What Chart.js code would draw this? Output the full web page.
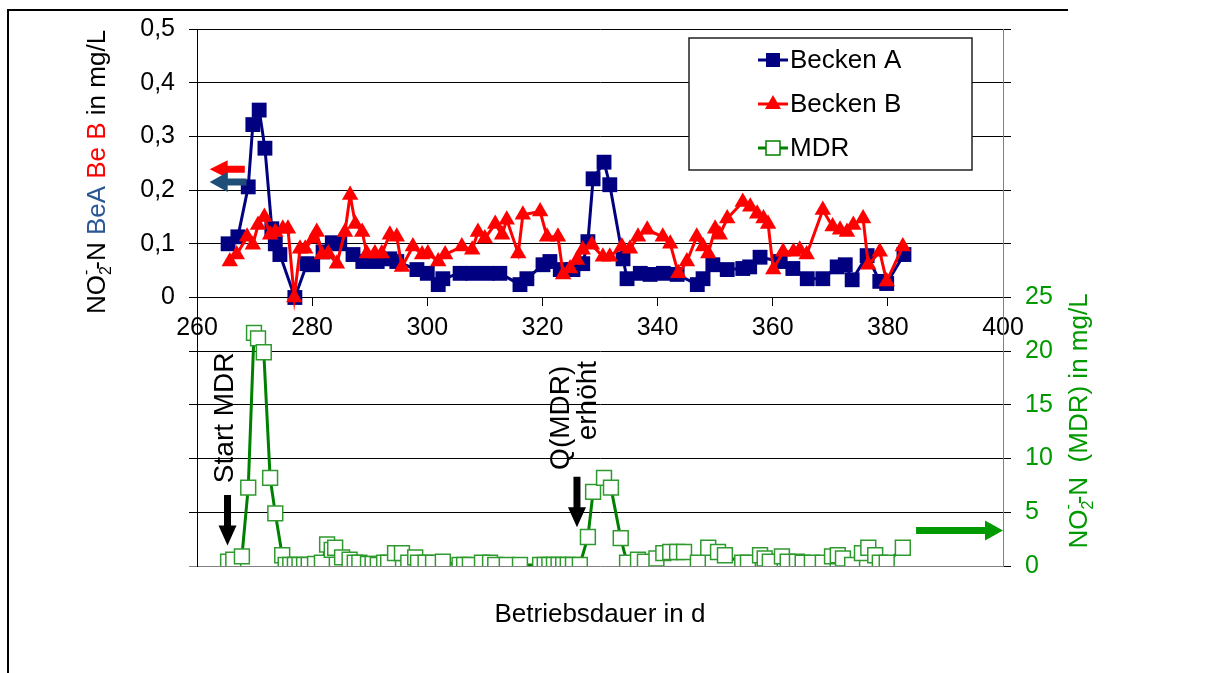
<!DOCTYPE html>
<html>
<head>
<meta charset="utf-8">
<script src="https://cdn.jsdelivr.net/npm/chart.js@4.4.0/dist/chart.umd.min.js"></script>
<style>
  html, body { margin: 0; padding: 0; background: #fff; }
  #wrap { width: 1224px; height: 673px; position: relative; }
</style>
</head>
<body>
<div id="wrap"><canvas id="no2-chart"></canvas></div>
<script>
// Betriebsdauer (d) und NO2-N Werte
const tageA = [265.4, 267.1, 268.9, 269.7, 270.8, 271.8, 273.0, 273.6, 274.4, 277.0, 279.1, 280.1, 281.9, 283.5, 284.8, 287.1, 288.8, 291.3, 293.5, 294.7, 298.2, 300.0, 301.9, 302.7, 305.7, 307.9, 310.4, 312.6, 316.1, 317.3, 320.1, 321.3, 323.1, 325.3, 327.0, 327.9, 328.8, 330.7, 331.7, 334.0, 334.7, 337.0, 338.7, 341.0, 343.4, 346.9, 347.9, 349.6, 352.1, 354.8, 356.0, 357.8, 361.3, 363.5, 366.0, 368.7, 371.2, 372.6, 373.8, 376.4, 378.6, 379.8, 382.8];
const beckenA = [0.100, 0.113, 0.206, 0.322, 0.349, 0.278, 0.128, 0.100, 0.080, 0.000, 0.063, 0.061, 0.085, 0.102, 0.100, 0.080, 0.067, 0.067, 0.072, 0.067, 0.052, 0.045, 0.024, 0.035, 0.045, 0.045, 0.045, 0.045, 0.024, 0.035, 0.061, 0.067, 0.052, 0.052, 0.063, 0.104, 0.221, 0.252, 0.210, 0.072, 0.035, 0.045, 0.043, 0.045, 0.043, 0.024, 0.035, 0.061, 0.052, 0.054, 0.057, 0.075, 0.067, 0.054, 0.035, 0.035, 0.057, 0.061, 0.033, 0.078, 0.030, 0.026, 0.080];

const tageB = [265.7, 266.9, 268.7, 269.7, 270.6, 271.7, 272.7, 273.6, 274.9, 275.8, 276.9, 277.9, 278.8, 280.2, 280.8, 281.7, 282.8, 284.3, 285.7, 286.6, 287.5, 288.7, 289.5, 290.9, 292.1, 293.5, 294.7, 295.6, 297.5, 299.1, 300.1, 301.9, 303.1, 306.0, 307.8, 308.8, 310.0, 311.8, 313.0, 313.8, 315.8, 316.6, 319.6, 320.8, 322.7, 323.6, 324.8, 326.0, 327.0, 328.6, 330.5, 331.7, 333.8, 335.2, 336.6, 338.2, 340.9, 342.2, 343.6, 345.1, 346.8, 347.9, 348.8, 350.0, 350.8, 352.1, 354.8, 356.1, 357.3, 358.4, 359.2, 360.1, 361.8, 363.6, 364.7, 365.9, 368.7, 370.4, 371.7, 372.9, 374.0, 375.7, 376.6, 378.6, 379.8, 382.6];
const beckenB = [0.067, 0.080, 0.113, 0.098, 0.135, 0.150, 0.117, 0.122, 0.128, 0.128, 0.000, 0.091, 0.091, 0.110, 0.122, 0.080, 0.082, 0.063, 0.122, 0.191, 0.137, 0.122, 0.082, 0.082, 0.082, 0.117, 0.113, 0.057, 0.095, 0.080, 0.082, 0.067, 0.080, 0.095, 0.089, 0.122, 0.110, 0.137, 0.117, 0.145, 0.082, 0.154, 0.160, 0.113, 0.113, 0.043, 0.054, 0.070, 0.089, 0.098, 0.076, 0.076, 0.095, 0.091, 0.113, 0.126, 0.113, 0.100, 0.045, 0.067, 0.113, 0.095, 0.082, 0.128, 0.117, 0.147, 0.178, 0.169, 0.156, 0.147, 0.137, 0.052, 0.085, 0.085, 0.089, 0.080, 0.163, 0.132, 0.126, 0.122, 0.135, 0.147, 0.061, 0.085, 0.030, 0.095];

const tageMDR = [265.4, 266.3, 267.8, 268.9, 269.9, 270.6, 271.6, 272.7, 273.6, 274.8, 275.4, 276.2, 277.0, 277.8, 278.6, 279.4, 280.5, 281.7, 282.6, 283.4, 284.0, 285.2, 286.5, 287.4, 288.2, 289.7, 290.5, 291.4, 292.5, 293.2, 294.4, 295.6, 296.7, 297.9, 298.4, 299.7, 301.0, 302.7, 305.6, 306.4, 307.4, 309.5, 310.9, 311.8, 313.8, 316.1, 319.6, 320.4, 321.2, 322.0, 322.8, 323.6, 324.4, 325.3, 326.5, 327.9, 328.8, 330.7, 331.9, 333.6, 334.7, 336.6, 337.8, 339.8, 341.0, 342.2, 343.4, 344.6, 347.0, 348.8, 350.5, 351.7, 354.7, 355.7, 357.8, 358.6, 359.5, 361.6, 362.6, 364.2, 365.2, 366.8, 368.7, 370.3, 371.3, 372.2, 373.8, 375.5, 376.6, 377.8, 378.6, 379.8, 382.6];
const mdr = [0.4, 0.6, 0.9, 7.3, 21.7, 21.2, 19.9, 8.2, 4.9, 1.0, 0.1, 0.1, 0.1, 0.1, 0.1, 0.1, 0.2, 0.3, 2.0, 1.5, 1.7, 0.8, 0.6, 0.3, 0.3, 0.2, 0.2, 0.1, 0.3, 0.3, 1.2, 1.2, 0.3, 0.8, 0.3, 0.3, 0.3, 0.4, 0.1, 0.1, 0.1, 0.3, 0.3, 0.1, 0.1, 0.1, 0.1, 0.1, 0.1, 0.1, 0.1, 0.1, 0.1, 0.1, 0.1, 2.7, 6.9, 8.2, 7.3, 2.6, 0.3, 0.6, 0.4, 0.7, 1.2, 1.3, 1.3, 1.3, 0.3, 1.7, 1.3, 1.0, 0.3, 0.3, 1.0, 0.7, 0.4, 0.9, 0.4, 0.4, 0.3, 0.3, 0.3, 0.9, 1.0, 0.7, 0.1, 1.2, 1.7, 1.0, 0.3, 0.3, 1.7];

const xTicks = [260, 280, 300, 320, 340, 360, 380, 400];
const linksTicks = [0, 0.1, 0.2, 0.3, 0.4, 0.5];
const rechtsTicks = [0, 5, 10, 15, 20, 25];

const FONT = "'Liberation Sans', Arial, sans-serif";
const GRUEN = '#009900';
const BLAU_TEXT = '#2b5797';

function punkte(tage, werte) {
  return tage.map((t, i) => ({ x: t, y: werte[i] }));
}

function pfeil(ctx, x1, y1, x2, y2, farbe, schaft, kopfLaenge, kopfBreite) {
  const winkel = Math.atan2(y2 - y1, x2 - x1);
  const laenge = Math.hypot(x2 - x1, y2 - y1);
  ctx.save();
  ctx.translate(x1, y1);
  ctx.rotate(winkel);
  ctx.fillStyle = farbe;
  ctx.beginPath();
  ctx.moveTo(0, -schaft / 2);
  ctx.lineTo(laenge - kopfLaenge, -schaft / 2);
  ctx.lineTo(laenge - kopfLaenge, -kopfBreite);
  ctx.lineTo(laenge, 0);
  ctx.lineTo(laenge - kopfLaenge, kopfBreite);
  ctx.lineTo(laenge - kopfLaenge, schaft / 2);
  ctx.lineTo(0, schaft / 2);
  ctx.closePath();
  ctx.fill();
  ctx.restore();
}

// senkrechter Text aus Teilen (mit Tief-/Hochstellung), zentriert um cx, cy
function senkrechterText(ctx, cx, cy, teile, groesse) {
  const klein = Math.round(groesse * 0.62);
  ctx.save();
  let gesamt = 0;
  teile.forEach(p => {
    ctx.font = (p.art ? klein : groesse) + 'px ' + FONT;
    p.w = ctx.measureText(p.t).width;
    if (!p.ohneVorschub) gesamt += p.w;
  });
  ctx.translate(cx, cy);
  ctx.rotate(-Math.PI / 2);
  ctx.textBaseline = 'middle';
  ctx.textAlign = 'left';
  let x = -gesamt / 2;
  teile.forEach(p => {
    ctx.font = (p.art ? klein : groesse) + 'px ' + FONT;
    ctx.fillStyle = p.c || '#000';
    let dy = 0;
    if (p.art === 'sub') dy = groesse * 0.34;
    if (p.art === 'sup') dy = -groesse * 0.42;
    ctx.fillText(p.t, x, dy);
    if (!p.ohneVorschub) x += p.w;
  });
  ctx.restore();
}

function legendenMarke(ctx, x, y, stil) {
  ctx.save();
  ctx.strokeStyle = stil.linie;
  ctx.lineWidth = 3;
  ctx.beginPath();
  ctx.moveTo(x - 15, y);
  ctx.lineTo(x + 15, y);
  ctx.stroke();
  if (stil.form === 'rect') {
    ctx.fillStyle = stil.fuell;
    ctx.fillRect(x - 7, y - 7, 14, 14);
    if (stil.rand) {
      ctx.strokeStyle = stil.rand;
      ctx.lineWidth = 1.5;
      ctx.strokeRect(x - 7, y - 7, 14, 14);
    }
  } else {
    ctx.fillStyle = stil.fuell;
    ctx.beginPath();
    ctx.moveTo(x, y - 9);
    ctx.lineTo(x + 8, y + 5);
    ctx.lineTo(x - 8, y + 5);
    ctx.closePath();
    ctx.fill();
  }
  ctx.restore();
}

const zeichnenPlugin = {
  id: 'zusatz',
  afterDatasetsDraw(chart) {
    const ctx = chart.ctx;
    const sx = chart.scales.x, sy = chart.scales.y, sy2 = chart.scales.y2;
    // Pfeile zur Achsenzuordnung
    pfeil(ctx, sx.getPixelForValue(268.3), sy.getPixelForValue(0.239), sx.getPixelForValue(262.2), sy.getPixelForValue(0.239), '#ff0000', 7, 18, 9);
    pfeil(ctx, sx.getPixelForValue(268.6), sy.getPixelForValue(0.215), sx.getPixelForValue(262.2), sy.getPixelForValue(0.215), '#1f4e79', 7, 18, 10);
    pfeil(ctx, sx.getPixelForValue(384.9), sy2.getPixelForValue(3.3), sx.getPixelForValue(400), sy2.getPixelForValue(3.3), GRUEN, 7, 18, 10);
    // schwarze Pfeile (Ereignisse)
    pfeil(ctx, sx.getPixelForValue(265.3), sy2.getPixelForValue(6.6), sx.getPixelForValue(265.3), sy2.getPixelForValue(1.9), '#000', 7, 20, 9);
    pfeil(ctx, sx.getPixelForValue(326.0), sy2.getPixelForValue(8.3), sx.getPixelForValue(326.0), sy2.getPixelForValue(3.6), '#000', 7, 20, 9);
    senkrechterText(ctx, sx.getPixelForValue(264.9), sy2.getPixelForValue(13.8), [{ t: 'Start MDR' }], 28);
    senkrechterText(ctx, sx.getPixelForValue(323.2), sy2.getPixelForValue(13.8), [{ t: 'Q(MDR)' }], 28);
    senkrechterText(ctx, sx.getPixelForValue(328.0), sy2.getPixelForValue(15.4), [{ t: 'erhöht' }], 28);
  },
  afterDraw(chart) {
    const ctx = chart.ctx;
    const ca = chart.chartArea;
    // Rahmen
    ctx.save();
    ctx.strokeStyle = '#000';
    ctx.lineWidth = 2;
    ctx.beginPath();
    ctx.moveTo(8, 673);
    ctx.lineTo(8, 10);
    ctx.lineTo(1068, 10);
    ctx.stroke();
    ctx.restore();

    // Achsentitel
    senkrechterText(ctx, 98, 172, [
      { t: 'NO' }, { t: '2', art: 'sub', ohneVorschub: true }, { t: '-', art: 'sup' },
      { t: '-N ' }, { t: 'BeA', c: BLAU_TEXT }, { t: ' ' }, { t: 'Be B', c: '#ff0000' }, { t: ' in mg/L' }
    ], 26);
    senkrechterText(ctx, 1080, 421, [
      { t: 'NO', c: GRUEN }, { t: '2', art: 'sub', ohneVorschub: true, c: GRUEN }, { t: '-', art: 'sup', c: GRUEN },
      { t: '-N  (MDR) in mg/L', c: GRUEN }
    ], 26);
    ctx.save();
    ctx.font = '26px ' + FONT;
    ctx.fillStyle = '#000';
    ctx.textAlign = 'center';
    ctx.textBaseline = 'middle';
    ctx.fillText('Betriebsdauer in d', (ca.left + ca.right) / 2, 615);
    ctx.restore();

    // Legende
    const lx = ca.left + 492, ly = ca.top + 9, lw = 283, lh = 132;
    ctx.save();
    ctx.fillStyle = '#fff';
    ctx.fillRect(lx, ly, lw, lh);
    ctx.strokeStyle = '#222';
    ctx.lineWidth = 1.5;
    ctx.strokeRect(lx, ly, lw, lh);
    const eintraege = [
      { text: 'Becken A', linie: '#000080', fuell: '#000080', form: 'rect' },
      { text: 'Becken B', linie: '#ff0000', fuell: '#ff0000', form: 'tri' },
      { text: 'MDR', linie: '#008000', fuell: '#fff', rand: '#008000', form: 'rect' }
    ];
    ctx.font = '26px ' + FONT;
    ctx.textBaseline = 'middle';
    eintraege.forEach((e, i) => {
      const y = ly + 22 + i * 44;
      legendenMarke(ctx, lx + 84, y, e);
      ctx.fillStyle = '#000';
      ctx.fillText(e.text, lx + 101, y + 1);
    });
    ctx.restore();
  }
};

Chart.defaults.font.family = FONT;
Chart.defaults.color = '#000';

const ctx = document.getElementById('no2-chart').getContext('2d');
new Chart(ctx, {
  type: 'line',
  data: {
    datasets: [
      {
        label: 'Becken B',
        data: punkte(tageB, beckenB),
        yAxisID: 'y',
        borderColor: '#ff0000',
        backgroundColor: '#ff0000',
        borderWidth: 3,
        pointStyle: 'triangle',
        pointRadius: 9.5,
        pointBorderWidth: 0,
        order: 0
      },
      {
        label: 'Becken A',
        data: punkte(tageA, beckenA),
        yAxisID: 'y',
        borderColor: '#000080',
        backgroundColor: '#000080',
        borderWidth: 3,
        pointStyle: 'rect',
        pointRadius: 10.5,
        pointBorderWidth: 0,
        order: 1
      },
      {
        label: 'MDR',
        data: punkte(tageMDR, mdr),
        yAxisID: 'y2',
        borderColor: '#008000',
        backgroundColor: '#ffffff',
        pointBorderColor: '#2e9a2e',
        borderWidth: 3,
        pointStyle: 'rect',
        pointRadius: 10.5,
        pointBorderWidth: 1.5,
        order: 2
      }
    ]
  },
  options: {
    responsive: true,
    maintainAspectRatio: false,
    animation: false,
    layout: { padding: { left: 137, right: 161, top: 27, bottom: 107 } },
    plugins: { legend: { display: false }, tooltip: { enabled: false } },
    scales: {
      x: {
        type: 'linear',
        position: { y: 0 },
        min: 260,
        max: 400,
        afterBuildTicks: s => { s.ticks = xTicks.map(v => ({ value: v })); },
        grid: { drawOnChartArea: false, drawTicks: true, tickLength: 8, color: '#000' },
        border: { display: true, color: '#000', width: 1 },
        ticks: { font: { size: 25 }, color: '#000', padding: 8, maxRotation: 0 }
      },
      y: {
        position: 'left',
        min: -0.5,
        max: 0.5,
        afterBuildTicks: s => {
          const alle = linksTicks.slice(1).reverse().map(v => -v).concat(linksTicks);
          s.ticks = alle.map(v => ({ value: v }));
        },
        afterFit: s => { s.width = 60; },
        grid: {
          color: c => (c.tick && c.tick.value <= -0.499 ? '#808080' : '#000'),
          lineWidth: 1,
          tickLength: 8
        },
        border: { color: '#000', width: 1 },
        ticks: {
          font: { size: 25 },
          color: '#000',
          padding: 14,
          callback: v => (v < -1e-6 ? '' : (Math.abs(v) < 1e-6 ? '0' : v.toFixed(1).replace('.', ',')))
        }
      },
      y2: {
        position: 'right',
        min: 0,
        max: 50,
        afterBuildTicks: s => {
          const alle = rechtsTicks.concat(rechtsTicks.slice(1).map(v => v + 25));
          s.ticks = alle.map(v => ({ value: v }));
        },
        afterFit: s => { s.width = 60; },
        grid: { drawOnChartArea: false, drawTicks: true, tickLength: 8, color: '#000' },
        border: { color: '#808080', width: 1 },
        ticks: {
          font: { size: 25 },
          color: GRUEN,
          padding: 14,
          callback: v => (rechtsTicks.includes(v) ? String(v) : '')
        }
      }
    }
  },
  plugins: [zeichnenPlugin]
});
</script>
</body>
</html>
